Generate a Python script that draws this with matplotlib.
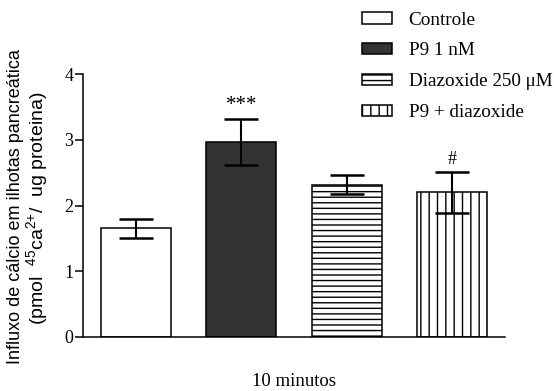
import matplotlib
matplotlib.use("Agg")
import matplotlib.pyplot as plt
import numpy as np

groups = ["Controle", "P9 1 nM", "Diazoxide 250 \u03bcM", "P9 + diazoxide"]
means = [1.65, 2.97, 2.32, 2.20]
sems = [0.15, 0.35, 0.14, 0.31]
marks = ["", "***", "", "#"]
mark_sizes = [0, 15, 0, 13]
yticks = [0, 1, 2, 3, 4]
xlabel = "10 minutos"

fills = ["white", "#333333", "white", "white"]
hatches = [None, None, "---", "||"]

serif = "Liberation Serif"
sans = "Liberation Sans"
plt.rcParams["hatch.linewidth"] = 1.0
plt.rcParams["mathtext.fontset"] = "custom"
plt.rcParams["mathtext.rm"] = sans
plt.rcParams["mathtext.it"] = sans + ":italic"
plt.rcParams["mathtext.bf"] = sans + ":bold"

fig = plt.figure(figsize=(5.54, 3.91), dpi=100)
ax = fig.add_axes([83.3 / 554, 1 - 336.7 / 391, (505 - 83.3) / 554, (336.7 - 74.3) / 391])

x = np.arange(len(groups))
bars = ax.bar(x, means, width=0.665, color=fills, edgecolor="black",
              linewidth=1.1, zorder=2)
for b, h, g in zip(bars, hatches, groups):
    if h:
        b.set_hatch(h)
    b.set_label(g)

ax.errorbar(x, means, yerr=sems, fmt="none", ecolor="black", elinewidth=1.5,
            capsize=12.5, capthick=1.8, zorder=3)

for xi, m, s, t, fs in zip(x, means, sems, marks, mark_sizes):
    if t:
        ax.annotate(t, (xi, m + s), xytext=(0, 3), textcoords="offset points",
                    ha="center", va="bottom", fontsize=fs, family=serif)

ax.set_xlim(-0.5, 3.5)
ax.set_ylim(0, 4)
ax.set_yticks(yticks)
ax.set_yticklabels([str(t) for t in yticks], family=serif, fontsize=13)
ax.set_xticks([])
ax.spines["top"].set_visible(False)
ax.spines["right"].set_visible(False)
for sp in ("left", "bottom"):
    ax.spines[sp].set_linewidth(1.1)
ax.tick_params(axis="y", length=6, width=1.1, pad=1)

fig.text(294 / 554, 1 - 381 / 391, xlabel, ha="center", va="center",
         family=serif, fontsize=13.5)
fig.text(16 / 554, 1 - 207 / 391, "Influxo de c\u00e1lcio em ilhotas pancre\u00e1tica",
         rotation=90, ha="center", va="center", family=sans, fontsize=13)
fig.text(37 / 554, 1 - 208 / 391, "(pmol  $^{45}$ca$^{2{+}}$/  ug proteina)",
         rotation=90, ha="center", va="center", family=sans, fontsize=14)

leg = fig.legend(handles=list(bars), loc="upper left",
                 bbox_to_anchor=(354 / 554, 1 - 4 / 391), frameon=False,
                 prop={"family": serif, "size": 13.8},
                 handlelength=1.6, handleheight=0.55, handletextpad=0.85,
                 labelspacing=0.72, borderaxespad=0)

fig.savefig("out.png", dpi=100)
